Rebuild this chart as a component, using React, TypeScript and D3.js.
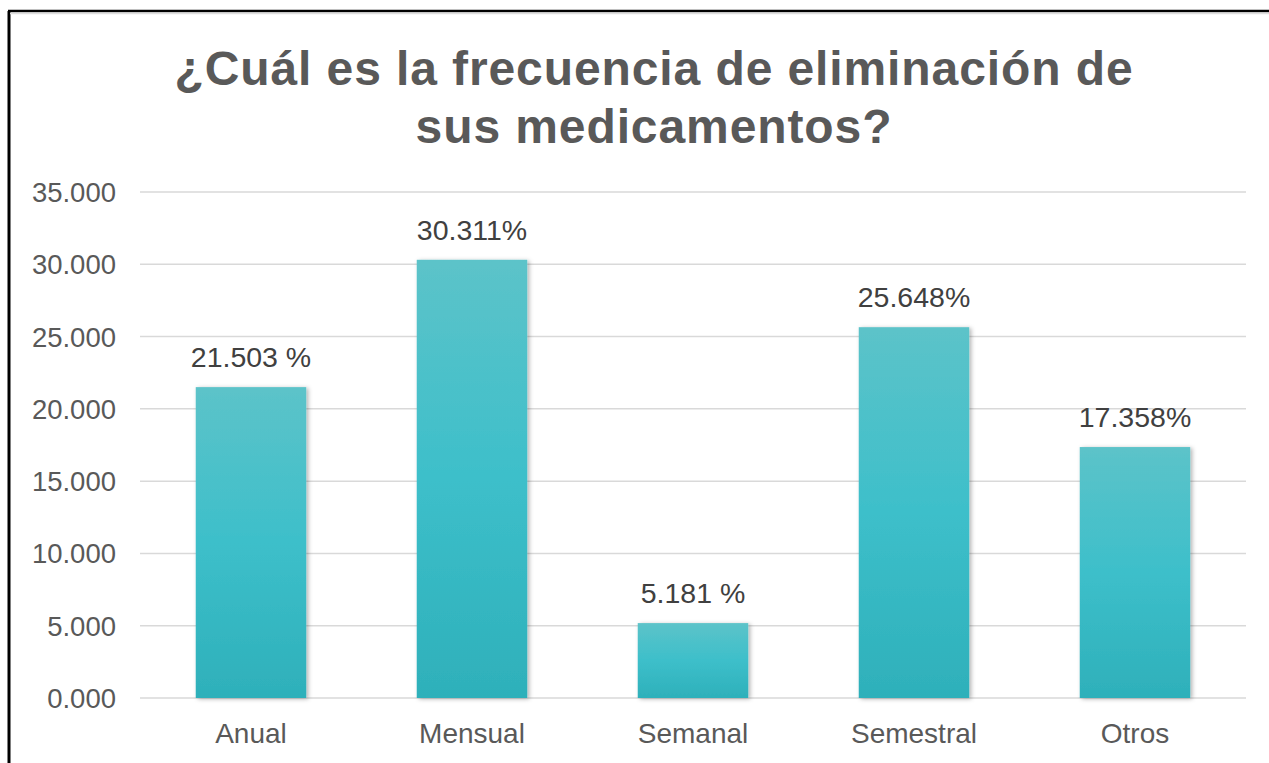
import React from "react";
import * as d3 from "d3";

const categories = ["Anual", "Mensual", "Semanal", "Semestral", "Otros"];
const values = [21.503, 30.311, 5.181, 25.648, 17.358];
const valueLabels = ["21.503 %", "30.311%", "5.181 %", "25.648%", "17.358%"];
const yTicks = [0, 5, 10, 15, 20, 25, 30, 35];
const titleLines = ["¿Cuál es la frecuencia de eliminación de", "sus medicamentos?"];

export default function App() {
  const W = 1269, H = 763;
  const x = d3.scaleBand<string>().domain(categories).range([140.5, 1245.5]).paddingInner(0.5).paddingOuter(0.25);
  const y = d3.scaleLinear().domain([0, 35]).range([698, 192]);
  const fmt = (v: number) => v.toFixed(3);
  const font = "Arial, 'Liberation Sans', sans-serif";
  return (
    <svg width={W} height={H} style={{ position: "absolute", left: 0, top: 0, background: "#fff" }}>
      <defs>
        <linearGradient id="barGrad" x1="0" y1="0" x2="0" y2="1">
          <stop offset="0" stopColor="#5cc3c9" />
          <stop offset="0.5" stopColor="#3dbfca" />
          <stop offset="1" stopColor="#2eb0ba" />
        </linearGradient>
        <filter id="shadow" x="-10%" y="-10%" width="130%" height="130%">
          <feDropShadow dx="2" dy="1" stdDeviation="2" floodColor="#000" floodOpacity="0.3" />
        </filter>
      </defs>
      <rect x={0} y={0} width={W} height={H} fill="#fff" />
      <line x1={9} y1={11} x2={9} y2={H} stroke="#000" strokeWidth={3} />
      <line x1={8} y1={11} x2={W} y2={11} stroke="#000" strokeWidth={2.5} />
      <line x1={10} y1={13.5} x2={W} y2={13.5} stroke="#ddd" strokeWidth={1.5} />
      {titleLines.map((t, i) => (
        <text key={i} x={654} y={85 + i * 58} textAnchor="middle" fontFamily={font} fontWeight="bold" fontSize={48} fill="#595959" letterSpacing="0.9">
          {t}
        </text>
      ))}
      {yTicks.map((t) => (
        <g key={t}>
          <line x1={140} x2={1246} y1={y(t)} y2={y(t)} stroke="#d9d9d9" strokeWidth={1.5} />
          <text x={116} y={y(t) + 10} textAnchor="end" fontFamily={font} fontSize={27.5} fill="#595959">
            {fmt(t)}
          </text>
        </g>
      ))}
      {categories.map((c, i) => {
        const bx = x(c)!;
        const bw = x.bandwidth();
        return (
          <g key={c}>
            <rect x={bx} y={y(values[i])} width={bw} height={y(0) - y(values[i])} fill="url(#barGrad)" filter="url(#shadow)" />
            <text x={bx + bw / 2} y={y(values[i]) - 20} textAnchor="middle" fontFamily={font} fontSize={28.5} fill="#404040">
              {valueLabels[i]}
            </text>
            <text x={bx + bw / 2} y={743} textAnchor="middle" fontFamily={font} fontSize={28} fill="#595959">
              {c}
            </text>
          </g>
        );
      })}
    </svg>
  );
}
